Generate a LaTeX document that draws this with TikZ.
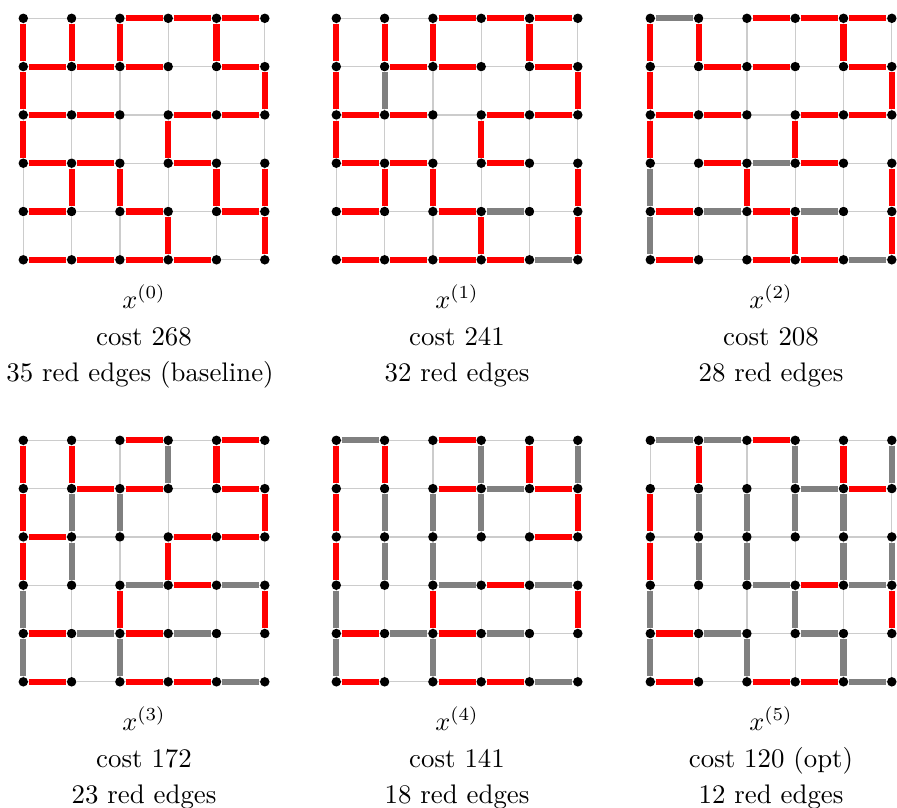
\documentclass[tikz,border=0pt]{standalone}
\usetikzlibrary{calc}
\tikzset{
  dot/.style={circle,fill=black,inner sep=0pt,minimum size=3.6pt,outer sep=0pt},
  gridE/.style={draw=black!20,line width=0.5pt},
  redE/.style={draw=red,line width=2.3pt,shorten <=0.35pt,shorten >=0.35pt},
  grayE/.style={draw=black!50,line width=2.3pt,shorten <=0.35pt,shorten >=0.35pt},
  lbl/.style={anchor=base,inner sep=0pt,font=\fontsize{10.2pt}{12pt}\selectfont}
}
\newcommand\RedEdges[2]{\foreach \a/\b in {#2} \draw[redE] (g#1-\a) -- (g#1-\b);}
\newcommand\GrayEdges[2]{\foreach \a/\b in {#2} \draw[grayE] (g#1-\a) -- (g#1-\b);}
\begin{document}
\begin{tikzpicture}[x=0.38pt,y=-0.38pt]
\useasboundingbox (0,0) rectangle (897,807);
% nodes and background grid
\foreach \k/\ox/\oy in {0/23.3/18.3,1/336.3/18.3,2/650.3/18.3,3/23.3/440.3,4/336.3/440.3,5/650.3/440.3}{
  \foreach \c in {0,...,5}{
    \foreach \r in {0,...,5}{
      \node[dot] (g\k-\c\r) at ({\ox+48.3*\c},{\oy+48.3*\r}) {};
    }
  }
  \foreach \r in {0,...,5}{
    \foreach \c/\d in {0/1,1/2,2/3,3/4,4/5}{
      \draw[gridE] (g\k-\c\r) -- (g\k-\d\r);
      \draw[gridE] (g\k-\r\c) -- (g\k-\r\d);
    }
  }
}
% grid 0
\RedEdges{0}{20/30,30/40,40/50, 01/11,11/21,21/31,41/51, 02/12,12/22,32/42,42/52, 03/13,13/23,33/43, 04/14,24/34,44/54, 05/15,15/25,25/35,35/45,
  00/01,10/11,20/21,40/41, 01/02,51/52, 02/03,32/33, 13/14,23/24,43/44,53/54, 34/35,54/55}
% grid 1
\RedEdges{1}{20/30,30/40,40/50, 11/21,21/31,41/51, 02/12,12/22,32/42,42/52, 03/13,13/23,33/43, 04/14,24/34, 05/15,15/25,25/35,35/45,
  00/01,10/11,20/21,40/41, 01/02,51/52, 02/03,32/33, 13/14,23/24,53/54, 34/35,54/55}
\GrayEdges{1}{11/12,34/44,45/55}
% grid 2
\RedEdges{2}{20/30,30/40,40/50, 11/21,21/31,41/51, 02/12,12/22,32/42,42/52, 13/23,33/43, 04/14,24/34, 05/15,25/35,35/45,
  00/01,10/11,40/41, 01/02,51/52, 02/03,32/33, 23/24,53/54, 34/35,54/55}
\GrayEdges{2}{00/10,23/33,14/24,34/44,45/55,03/04,04/05}
% grid 3
\RedEdges{3}{20/30,40/50, 11/21,21/31,41/51, 02/12,32/42,42/52, 33/43, 04/14,24/34, 05/15,25/35,35/45,
  00/01,10/11,40/41, 01/02,51/52, 02/03,32/33, 23/24,53/54}
\GrayEdges{3}{23/33,43/53,14/24,34/44,45/55,30/31,11/12,21/22,12/13,03/04,04/05,24/25}
% grid 4
\RedEdges{4}{20/30, 21/31,41/51, 42/52, 33/43, 04/14,24/34, 05/15,25/35,35/45,
  00/01,10/11,40/41, 01/02,51/52, 02/03, 23/24,53/54}
\GrayEdges{4}{00/10,31/41,23/33,43/53,14/24,34/44,45/55,30/31,50/51,11/12,21/22,31/32,12/13,22/23,03/04,04/05,24/25}
% grid 5
\RedEdges{5}{20/30, 41/51, 33/43, 04/14, 05/15,25/35,35/45,
  10/11,40/41, 01/02, 02/03, 53/54}
\GrayEdges{5}{00/10,10/20,31/41,23/33,43/53,14/24,34/44,45/55,30/31,50/51,11/12,21/22,31/32,41/42,12/13,22/23,42/43,52/53,03/04,33/34,04/05,24/25,44/45}
% labels
\node[lbl] (t0a) at (144,308) {$x^{(0)}$};
\node[lbl] (t0b) at (144,345) {cost 268};
\node[lbl] (t0c) at (140,381.7) {35 red edges (baseline)};
\node[lbl] (t1a) at (457,308) {$x^{(1)}$};
\node[lbl] (t1b) at (457,345) {cost 241};
\node[lbl] (t1c) at (457,381.7) {32 red edges};
\node[lbl] (t2a) at (771,308) {$x^{(2)}$};
\node[lbl] (t2b) at (771,345) {cost 208};
\node[lbl] (t2c) at (771,381.7) {28 red edges};
\node[lbl] (t3a) at (144,730) {$x^{(3)}$};
\node[lbl] (t3b) at (144,767) {cost 172};
\node[lbl] (t3c) at (144,803.5) {23 red edges};
\node[lbl] (t4a) at (457,730) {$x^{(4)}$};
\node[lbl] (t4b) at (457,767) {cost 141};
\node[lbl] (t4c) at (457,803.5) {18 red edges};
\node[lbl] (t5a) at (771,730) {$x^{(5)}$};
\node[lbl] (t5b) at (771,767) {cost 120 (opt)};
\node[lbl] (t5c) at (771,803.5) {12 red edges};
\end{tikzpicture}
\end{document}
